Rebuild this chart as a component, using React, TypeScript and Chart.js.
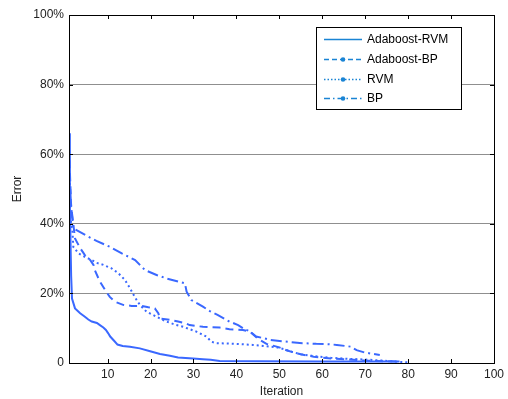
import React, { useEffect, useRef } from "react";
import { Chart, registerables } from "chart.js";

Chart.register(...registerables);

// ---- Data ----
const seriesNames = ["Adaboost-RVM", "Adaboost-BP", "RVM", "BP"];

const adaRvmIter = [1, 1.2, 1.5, 1.7, 2.4, 3.6, 4.7, 5.5, 6.3, 7.5, 8.2, 9, 9.6, 10.1, 10.6, 11.5, 12.3, 13.5, 15.2, 17.5, 19.9, 22.2, 24.5, 26.4, 29.9, 32.2, 34, 36.1, 45, 60, 78];
const adaRvmErr = [66, 45, 25, 18.5, 15.7, 14.3, 13.3, 12.5, 11.9, 11.5, 10.9, 10.2, 9.5, 8.6, 7.6, 6.4, 5.3, 4.9, 4.7, 4.2, 3.4, 2.6, 2.1, 1.6, 1.3, 1.05, 0.9, 0.6, 0.5, 0.45, 0.4];

const adaBpIter = [1, 1.5, 2, 2.4, 3.6, 4.7, 6, 6.7, 7, 8.2, 9.4, 10.5, 11.7, 13.6, 15.6, 17.9, 19.5, 21, 21.8, 22.2, 24.5, 26.4, 28, 29.1, 32.2, 36.1, 38.4, 41.5, 43.1, 45, 47, 50, 52, 55, 58, 62, 66, 70, 75, 78];
const adaBpErr = [62, 45, 40, 35.8, 33, 31, 29.5, 28.2, 26.7, 23.4, 21, 19, 17.6, 16.7, 16.4, 16.4, 16, 15.7, 14.3, 12.8, 12.4, 11.9, 11.5, 10.9, 10.4, 10.2, 9.7, 9.5, 9, 7, 5.5, 4.5, 3.5, 2.5, 1.8, 1.3, 1, 0.7, 0.5, 0.4];

const rvmIter = [1, 1.5, 1.8, 2, 3.2, 4.7, 6.3, 7.4, 9, 10.9, 12.5, 14, 15.2, 16.3, 17.5, 19.1, 20.6, 22.2, 23.7, 26, 27.6, 30.7, 33, 34.2, 35.3, 40, 43.8, 46.2, 49.3, 51, 53, 55, 58, 62, 66, 70, 74, 78, 80];
const rvmErr = [48, 40, 38, 33.4, 31.5, 30.5, 29.6, 28.8, 28.2, 27.2, 25.8, 23.9, 21.5, 19, 16.7, 14.7, 13.8, 12.8, 11.9, 10.9, 10.4, 9, 7.6, 6.1, 5.7, 5.5, 5.2, 4.9, 4.5, 4, 3.2, 2.5, 2, 1.5, 1.2, 1, 0.7, 0.3, 0.2];

const bpIter = [1, 1.5, 2, 5.5, 7.4, 10.5, 13.3, 16.4, 18.7, 21.4, 23.7, 26.4, 28, 28.4, 29.5, 32.2, 33.8, 35.6, 38.4, 40.4, 41.9, 43, 44.6, 46.5, 48, 52, 55.4, 58.6, 61.5, 63.4, 66.6, 68, 69.9, 73.4];
const bpErr = [56, 45, 38.7, 36.3, 35.1, 33.4, 31.5, 29.6, 26.7, 25.3, 24.3, 23.4, 22.9, 20.5, 18.1, 16.2, 14.9, 13.8, 11.9, 10.9, 9.7, 9.2, 7.6, 7.1, 6.6, 6.1, 5.7, 5.5, 5.4, 5.2, 4.7, 3.7, 3.0, 2.3];

const xTickValues = [10, 20, 30, 40, 50, 60, 70, 80, 90, 100];
const yTickValues = [0, 20, 40, 60, 80, 100];

const LINE_COLOR = "#3a68ff";
const LEGEND_COLOR = "#1a84d4";
const FONT = "'Liberation Sans', Arial, sans-serif";

const dashes: number[][] = [[], [8, 5], [2, 3], [11, 4, 2, 4]];
const legendDashes: number[][] = [[], [5, 3], [1.5, 2], [6, 3, 1.5, 3]];

function toPoints(xs: number[], ys: number[]) {
  return xs.map((x, i) => ({ x, y: ys[i] }));
}

const framePlugin = {
  id: "frame",
  afterDraw(chart: any) {
    const { ctx, chartArea } = chart;
    const { left, right, top, bottom } = chartArea;
    const xs = chart.scales.x;
    const ys = chart.scales.y;
    ctx.save();
    ctx.strokeStyle = "#000";
    ctx.lineWidth = 1;
    ctx.setLineDash([]);
    ctx.strokeRect(Math.round(left) + 0.5, Math.round(top) + 0.5, Math.round(right - left), Math.round(bottom - top));
    const tl = 4;
    ctx.beginPath();
    xTickValues.forEach((v) => {
      const px = Math.round(xs.getPixelForValue(v)) + 0.5;
      ctx.moveTo(px, bottom);
      ctx.lineTo(px, bottom - tl);
      ctx.moveTo(px, top);
      ctx.lineTo(px, top + tl);
    });
    yTickValues.forEach((v) => {
      const py = Math.round(ys.getPixelForValue(v)) + 0.5;
      ctx.moveTo(left, py);
      ctx.lineTo(left + tl, py);
      ctx.moveTo(right, py);
      ctx.lineTo(right - tl, py);
    });
    ctx.stroke();

    // legend
    const lx = 316, ly = 27, lw = 145, lh = 82;
    ctx.fillStyle = "#fff";
    ctx.fillRect(lx, ly, lw, lh);
    ctx.strokeStyle = "#000";
    ctx.strokeRect(lx + 0.5, ly + 0.5, lw, lh);
    const rows = [39, 59, 79, 98];
    ctx.font = "12px " + FONT;
    ctx.textBaseline = "middle";
    seriesNames.forEach((name, i) => {
      const y = rows[i] + 0.5;
      ctx.strokeStyle = LEGEND_COLOR;
      ctx.lineWidth = 1.6;
      ctx.setLineDash(legendDashes[i]);
      ctx.beginPath();
      ctx.moveTo(324, y);
      ctx.lineTo(362, y);
      ctx.stroke();
      ctx.setLineDash([]);
      if (i > 0) {
        ctx.fillStyle = LEGEND_COLOR;
        ctx.beginPath();
        ctx.arc(343, y, 2.3, 0, Math.PI * 2);
        ctx.fill();
      }
      ctx.fillStyle = "#000";
      ctx.fillText(name, 367, y);
    });
    ctx.restore();
  },
};

export default function App() {
  const ref = useRef<HTMLCanvasElement>(null);
  useEffect(() => {
    document.body.style.margin = "0";
    if (!ref.current) return;
    const datasets = [
      toPoints(adaRvmIter, adaRvmErr),
      toPoints(adaBpIter, adaBpErr),
      toPoints(rvmIter, rvmErr),
      toPoints(bpIter, bpErr),
    ].map((data, i) => ({
      label: seriesNames[i],
      data,
      borderColor: LINE_COLOR,
      backgroundColor: LINE_COLOR,
      borderWidth: 2,
      borderDash: dashes[i],
      pointRadius: 0,
      tension: 0,
      fill: false,
    }));
    const chart = new Chart(ref.current, {
      type: "line",
      data: { datasets },
      plugins: [framePlugin],
      options: {
        animation: false,
        responsive: false,
        layout: { padding: { top: 15, right: 13, left: 0, bottom: 0 } },
        plugins: { legend: { display: false }, tooltip: { enabled: false } },
        scales: {
          x: {
            type: "linear",
            min: 1,
            max: 100,
            afterBuildTicks: (s: any) => {
              s.ticks = xTickValues.map((v) => ({ value: v }));
            },
            afterFit: (s: any) => {
              s.height = 36;
            },
            grid: { display: false, drawTicks: false },
            border: { display: false },
            ticks: {
              padding: 4,
              maxRotation: 0,
              autoSkip: false,
              color: "#222",
              font: { family: FONT, size: 12 },
              callback: (v: any) => String(v),
            },
            title: {
              display: true,
              text: "Iteration",
              color: "#222",
              font: { family: FONT, size: 12 },
              padding: { top: 0, bottom: 0 },
            },
          },
          y: {
            type: "linear",
            min: 0,
            max: 100,
            afterBuildTicks: (s: any) => {
              s.ticks = yTickValues.map((v) => ({ value: v }));
            },
            afterFit: (s: any) => {
              s.width = 69;
            },
            grid: { color: "#8f8f8f", lineWidth: 1, drawTicks: false },
            border: { display: false },
            ticks: {
              padding: 5,
              color: "#222",
              font: { family: FONT, size: 12 },
              callback: (v: any) => (v === 0 ? "0" : v + "%"),
            },
            title: {
              display: true,
              text: "Error",
              color: "#222",
              font: { family: FONT, size: 12 },
              padding: { top: 10, bottom: 0 },
            },
          },
        },
      },
    });
    return () => chart.destroy();
  }, []);
  return (
    <div style={{ width: 508, height: 399 }}>
      <canvas ref={ref} width={508} height={399} style={{ display: "block" }} />
    </div>
  );
}
